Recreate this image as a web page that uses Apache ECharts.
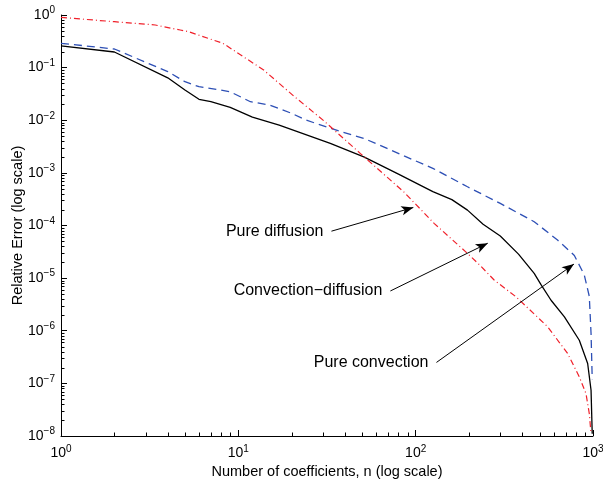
<!DOCTYPE html>
<html>
<head>
<meta charset="utf-8">
<script src="https://cdn.jsdelivr.net/npm/echarts@6/dist/echarts.min.js"></script>
<style>
  html, body { margin: 0; padding: 0; background: #fff; }
  #chart { width: 603px; height: 481px; }
</style>
</head>
<body>
<div id="chart"></div>
<script>
// 数据
const convDiffN = [1, 2, 4, 5, 6, 7, 9, 12, 17, 33, 51, 80, 125, 160, 196, 240, 300, 380, 466, 508, 580, 690, 837, 933, 975, 990];
const convDiffErr = [0.26, 0.198, 0.064, 0.0375, 0.025, 0.0225, 0.0176, 0.0115, 0.0081, 0.00363, 0.00202, 9.5e-4, 4.4e-4, 3.1e-4, 1.96e-4, 1.06e-4, 6.3e-5, 2.86e-5, 1.23e-5, 7.6e-6, 3.8e-6, 1.84e-6, 6.6e-7, 2.39e-7, 7.4e-8, 1.1e-8];

const pureConvN = [1, 2, 4, 5, 6, 8, 9, 11.7, 15, 20, 24, 38, 51, 69, 86, 125, 196, 300, 466, 631, 785, 893, 953, 975, 990];
const pureConvErr = [0.29, 0.226, 0.084, 0.054, 0.0434, 0.0375, 0.0348, 0.0225, 0.0195, 0.0135, 0.0101, 0.00605, 0.00453, 0.00292, 0.0021, 0.00122, 5.44e-4, 2.63e-4, 1.18e-4, 5.3e-5, 2.7e-5, 1.15e-5, 4.5e-6, 8.9e-7, 1.2e-7];

const pureDiffN = [1, 2, 3.4, 4.7, 5.24, 8.2, 13.9, 20.5, 30.3, 49, 86, 127, 196, 233, 277, 370, 555, 719, 837, 913, 953, 975];
const pureDiffErr = [0.9, 0.746, 0.646, 0.518, 0.482, 0.289, 0.09, 0.029, 0.0098, 0.0023, 4.3e-4, 1.1e-4, 2.95e-5, 1.69e-5, 9.2e-6, 4.35e-6, 1.19e-6, 3.7e-7, 1.33e-7, 6.4e-8, 2.67e-8, 1.1e-8];

// annotations: text, start of arrow, arrow tip (data coords)
const noteText = ['Pure diffusion', 'Convection\u2212diffusion', 'Pure convection'];
const noteFrom = [[33.5, 7.8e-5], [72, 5.7e-6], [131, 2.5e-7]];
const noteTo = [[97, 2.2e-4], [255, 4.6e-5], [781, 1.85e-5]];

// axis ranges and decades for the minor ticks
const xRange = [1, 1000];
const yRange = [1e-8, 1];
const xDecades = [1, 10, 100];
const yDecades = [1e-8, 1e-7, 1e-6, 1e-5, 1e-4, 1e-3, 1e-2, 1e-1];

const FONT = 'Liberation Sans';

function zip(xs, ys) {
  return xs.map((x, i) => [x, ys[i]]);
}

// 2..9 × 10^d
function minorValues(decades) {
  let out = [];
  decades.forEach(d => {
    for (let k = 2; k <= 9; k++) out.push(k * d);
  });
  return out;
}

// 10^k 标签
function powLabel(v) {
  let e = Math.round(Math.log10(v));
  let s = e < 0 ? '\u2212' + (-e) : String(e);
  return '{b|10}{s|' + s + '}';
}

const labelRich = {
  b: { fontSize: 14, fontFamily: FONT, color: '#000' },
  s: { fontSize: 10, fontFamily: FONT, color: '#000', padding: [0, 0, 9, 0] }
};

// small inward tick; dir = 'x' (on bottom axis) or 'y' (on left axis)
function minorTick(dir) {
  return function (params, api) {
    let p = api.coord([api.value(0), api.value(1)]);
    let shape;
    if (dir === 'x') {
      let x = Math.round(p[0]) + 0.5;
      shape = { x1: x, y1: p[1], x2: x, y2: p[1] - 3.5 };
    } else {
      let y = Math.round(p[1]) + 0.5;
      shape = { x1: p[0], y1: y, x2: p[0] + 3.5, y2: y };
    }
    return { type: 'line', shape: shape, style: { stroke: '#000', lineWidth: 1 } };
  };
}

let myChart = echarts.init(document.getElementById('chart'));

let option = {
  animation: false,
  backgroundColor: '#fff',
  grid: {
    left: 61,
    right: 10,
    top: 15,
    bottom: 45,
    outerBoundsMode: 'none'
  },
  xAxis: {
    type: 'log',
    logBase: 10,
    min: xRange[0],
    max: xRange[1],
    splitNumber: 3,
    name: 'Number of coefficients, n (log scale)',
    nameLocation: 'middle',
    nameGap: 28,
    nameMoveOverlap: false,
    nameTextStyle: { fontSize: 14.5, fontFamily: FONT, color: '#000' },
    axisLine: { lineStyle: { color: '#000', width: 1 } },
    axisTick: { show: true, inside: true, length: 6, lineStyle: { color: '#000', width: 1 } },
    splitLine: { show: false },
    axisLabel: { margin: 8, fontSize: 14, fontFamily: FONT, color: '#000', formatter: powLabel, rich: labelRich }
  },
  yAxis: {
    type: 'log',
    logBase: 10,
    min: yRange[0],
    max: yRange[1],
    splitNumber: 8,
    name: 'Relative Error (log scale)',
    nameLocation: 'middle',
    nameGap: 36,
    nameMoveOverlap: false,
    nameTextStyle: { fontSize: 14.5, fontFamily: FONT, color: '#000' },
    axisLine: { show: true, lineStyle: { color: '#000', width: 1 } },
    axisTick: { show: true, inside: true, length: 6, lineStyle: { color: '#000', width: 1 } },
    splitLine: { show: false },
    axisLabel: { margin: 6, fontSize: 14, fontFamily: FONT, color: '#000', formatter: powLabel, rich: labelRich }
  },
  series: [
    {
      name: 'Convection-diffusion',
      type: 'line',
      data: zip(convDiffN, convDiffErr),
      showSymbol: false,
      lineStyle: { color: '#000', width: 1.3 }
    },
    {
      name: 'Pure convection',
      type: 'line',
      data: zip(pureConvN, pureConvErr),
      showSymbol: false,
      lineStyle: { color: '#2d4fb5', width: 1.3, type: [8, 5] }
    },
    {
      name: 'Pure diffusion',
      type: 'line',
      data: zip(pureDiffN, pureDiffErr),
      showSymbol: false,
      lineStyle: { color: '#f0202a', width: 1.2, type: [6, 3, 1, 3] }
    },
    {
      name: 'notes',
      type: 'scatter',
      symbolSize: 0,
      itemStyle: { opacity: 1 },
      data: noteFrom.map((p, i) => ({ value: p, name: noteText[i] })),
      label: {
        show: true,
        position: 'left',
        distance: 8,
        formatter: '{b}',
        fontSize: 16,
        fontFamily: FONT,
        color: '#000',
        opacity: 1
      },
      markLine: {
        silent: true,
        symbol: ['none', 'arrow'],
        symbolSize: [7, 12],
        lineStyle: { color: '#000', width: 1, type: 'solid', opacity: 1 },
        label: { show: false },
        data: noteFrom.map((p, i) => [{ coord: p }, { coord: noteTo[i] }])
      }
    },
    {
      name: 'xMinor',
      type: 'custom',
      silent: true,
      clip: false,
      renderItem: minorTick('x'),
      data: minorValues(xDecades).map(v => [v, yRange[0]])
    },
    {
      name: 'yMinor',
      type: 'custom',
      silent: true,
      clip: false,
      renderItem: minorTick('y'),
      data: minorValues(yDecades).map(v => [xRange[0], v])
    }
  ]
};

myChart.setOption(option);
</script>
</body>
</html>
